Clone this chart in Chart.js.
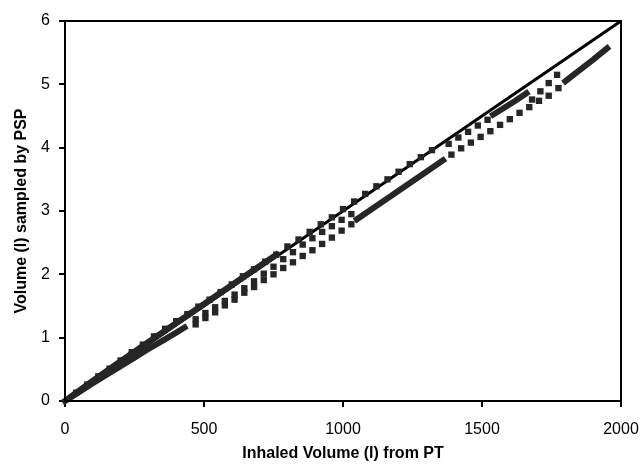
<!DOCTYPE html>
<html lang="en">
<head>
    <meta charset="UTF-8">
    <title>PSP volume vs PT volume</title>
    <script src="https://cdn.jsdelivr.net/npm/chart.js"></script>
    <style>
        body { margin: 0; background: #fff; }
        #wrap { width: 640px; height: 469px; }
    </style>
</head>
<body>
    <div id="wrap">
        <canvas id="myChart" width="640" height="469"></canvas>
    </div>

<script>
    // reference line y = x (scaled), drawn solid
    var refX = [0, 2000];
    var refY = [0, 6];

    // markers sitting on / just above the line
    var upperX = [40, 80, 120, 160, 200, 240, 280, 320, 360, 400, 440, 480, 520, 560, 600, 640, 680, 720, 760, 800, 840, 880, 920, 960, 1000, 1040, 1080, 1120, 1160, 1200, 1240, 1280, 1320];
    var upperY = [0.13, 0.26, 0.39, 0.51, 0.64, 0.77, 0.89, 1.02, 1.14, 1.26, 1.37, 1.49, 1.60, 1.72, 1.84, 1.97, 2.08, 2.20, 2.31, 2.44, 2.55, 2.67, 2.79, 2.90, 3.03, 3.15, 3.27, 3.39, 3.50, 3.62, 3.74, 3.85, 3.96];

    // markers hanging just under the line
    var nearX = [470, 505, 540, 575, 610, 645, 680, 715, 750, 785, 820, 855, 890, 925, 960, 995, 1030, 1380, 1415, 1450, 1485, 1520, 1680, 1710, 1740, 1770];
    var nearY = [1.29, 1.39, 1.48, 1.58, 1.68, 1.78, 1.89, 2.01, 2.12, 2.24, 2.35, 2.47, 2.57, 2.67, 2.76, 2.86, 2.95, 4.06, 4.16, 4.25, 4.35, 4.44, 4.76, 4.89, 5.02, 5.15];

    // lower run, sparse part
    var lowerX = [470, 505, 540, 575, 610, 645, 680, 715, 750, 785, 820, 855, 890, 925, 960, 995, 1030, 1390, 1425, 1460, 1495, 1530, 1565, 1600, 1635, 1670, 1705, 1740, 1775];
    var lowerY = [1.21, 1.31, 1.40, 1.51, 1.60, 1.71, 1.80, 1.91, 2.00, 2.10, 2.19, 2.29, 2.38, 2.48, 2.58, 2.69, 2.79, 3.89, 3.99, 4.08, 4.17, 4.26, 4.36, 4.45, 4.55, 4.64, 4.74, 4.82, 4.94];

    // dense stretches where the markers run together (null = break)
    var denseX = [0, 100, 200, 300, 400, 500, 600, 700, 760, null,
                  0, 50, 100, 150, 200, 250, 300, 350, 400, 430, null,
                  1050, 1100, 1150, 1200, 1250, 1300, 1360, null,
                  1540, 1580, 1620, 1660, null,
                  1800, 1850, 1900, 1950];
    var denseY = [0, 0.32, 0.63, 0.93, 1.23, 1.53, 1.83, 2.13, 2.31, null,
                  0, 0.14, 0.28, 0.415, 0.55, 0.685, 0.82, 0.95, 1.08, 1.16, null,
                  2.87, 3.02, 3.17, 3.32, 3.47, 3.62, 3.80, null,
                  4.52, 4.63, 4.74, 4.86, null,
                  5.05, 5.22, 5.39, 5.57];

    var fonte = "'Liberation Sans', Arial, sans-serif";
    var cinza = '#262626';

    function pontos(xs, ys) {
        return xs.map(function (x, i) { return { x: x, y: ys[i] }; });
    }

    const moldura = {
        id: 'moldura',
        afterDatasetsDraw(chart) {
            const a = chart.chartArea;
            const ctx = chart.ctx;
            ctx.save();
            ctx.strokeStyle = '#000';
            ctx.lineWidth = 2;
            ctx.strokeRect(a.left, a.top, a.right - a.left, a.bottom - a.top);
            ctx.restore();
        }
    };

    const marcador = {
        showLine: false,
        pointStyle: 'rect',
        pointRadius: 4.5,
        backgroundColor: cinza,
        borderColor: cinza,
        borderWidth: 0,
        clip: false
    };

    const myChart = new Chart(document.getElementById('myChart'), {
        type: 'scatter',
        data: {
            datasets: [
                { label: 'dense', data: pontos(denseX, denseY), showLine: true, borderColor: cinza, borderWidth: 6, pointRadius: 0, spanGaps: false, clip: false, borderCapStyle: 'square' },
                Object.assign({ label: 'lower', data: pontos(lowerX, lowerY) }, marcador),
                Object.assign({ label: 'near', data: pontos(nearX, nearY) }, marcador),
                Object.assign({ label: 'upper', data: pontos(upperX, upperY) }, marcador),
                { label: 'ref', data: pontos(refX, refY), showLine: true, borderColor: '#000', borderWidth: 3, pointRadius: 0, clip: false }
            ]
        },
        options: {
            responsive: false,
            animation: false,
            layout: { padding: { top: 21, right: 19, left: 0, bottom: 0 } },
            plugins: { legend: { display: false }, tooltip: { enabled: false } },
            scales: {
                x: {
                    type: 'linear', min: 0, max: 2000,
                    afterFit: function (s) { s.height = 68; s.paddingRight = 18; s.paddingLeft = 0; },
                    ticks: { stepSize: 500, color: '#000', font: { family: fonte, size: 16 }, padding: 13, maxRotation: 0,
                             callback: function (v) { return String(v); } },
                    grid: { drawOnChartArea: false, drawTicks: true, tickLength: 6, color: '#000', lineWidth: 2 },
                    border: { color: '#000', width: 2 },
                    title: { display: true, text: 'Inhaled Volume (l) from PT', color: '#000', font: { family: fonte, size: 16, weight: 'bold' }, padding: { top: 4, bottom: 6 } }
                },
                y: {
                    type: 'linear', min: 0, max: 6,
                    afterFit: function (s) { s.width = 65; },
                    ticks: { stepSize: 1, color: '#000', font: { family: fonte, size: 16 }, padding: 9 },
                    grid: { drawOnChartArea: false, drawTicks: true, tickLength: 6, color: '#000', lineWidth: 2 },
                    border: { color: '#000', width: 2 },
                    title: { display: true, text: 'Volume (l) sampled by PSP', color: '#000', font: { family: fonte, size: 16, weight: 'bold' }, padding: { top: 12, bottom: 4 } }
                }
            }
        },
        plugins: [moldura]
    });
</script>
</body>
</html>
